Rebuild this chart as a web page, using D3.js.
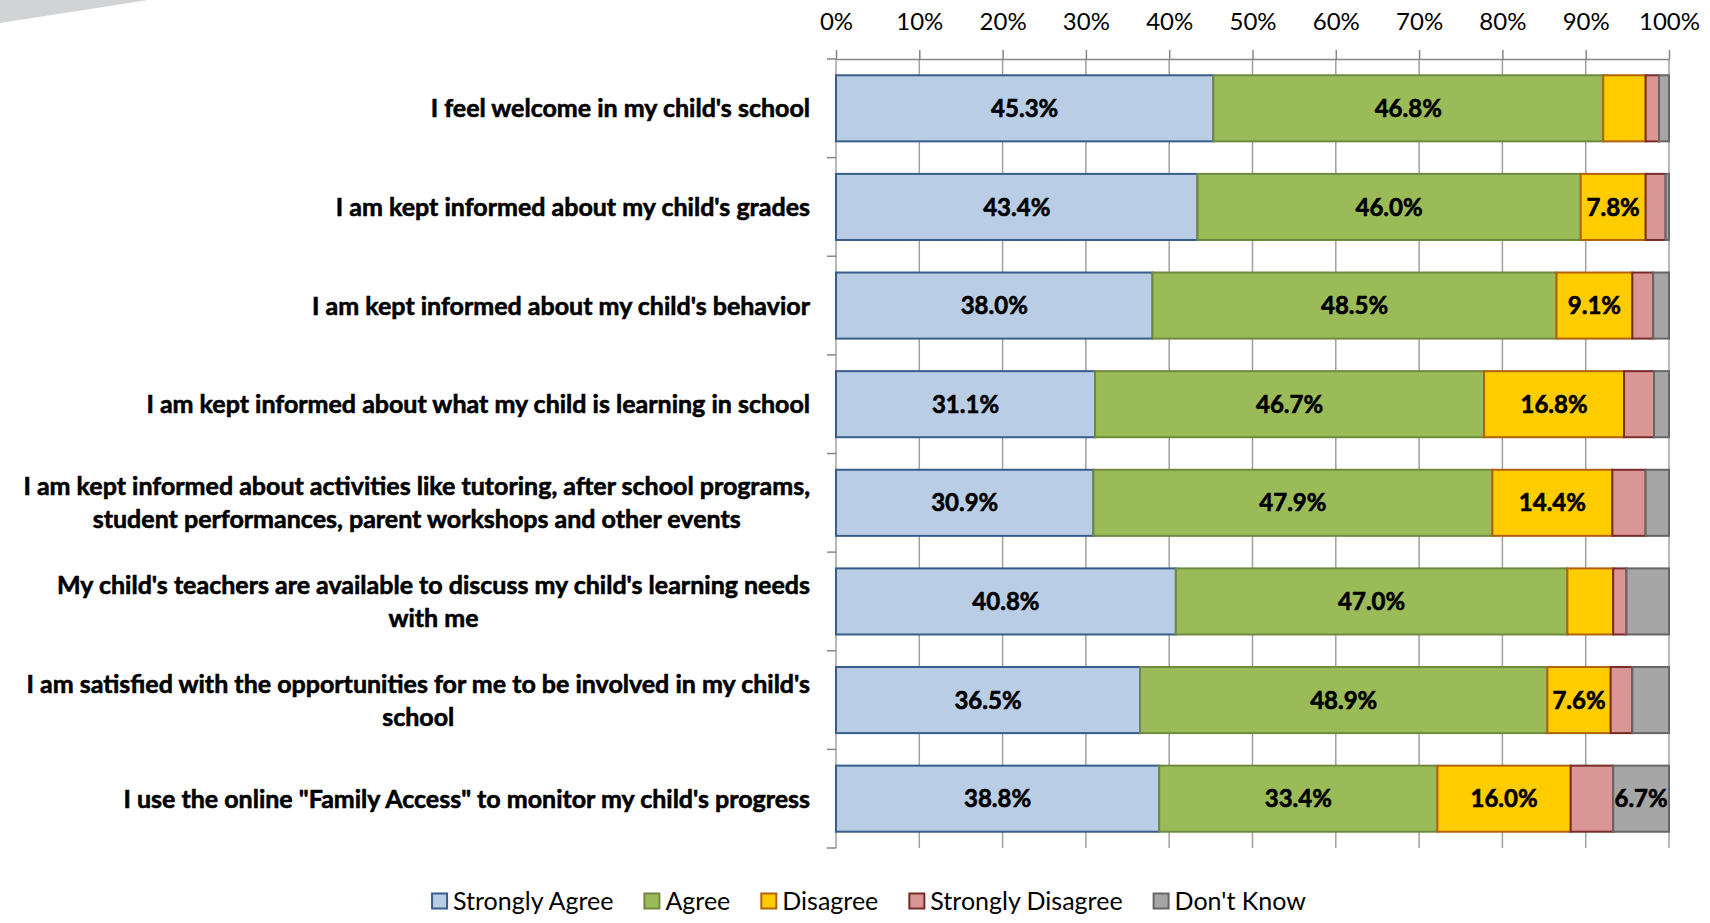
<!DOCTYPE html>
<html>
<head>
<meta charset="utf-8">
<script src="https://cdn.jsdelivr.net/npm/d3@7/dist/d3.min.js"></script>
<style>
  html, body { margin: 0; padding: 0; background: #fff; }
  svg { display: block; font-family: Lato, "Open Sans", sans-serif; }
</style>
</head>
<body>
<svg id="chart" width="1710" height="923"></svg>
<script>
// ---- data ----
const categories = [
  ["I feel welcome in my child's school"],
  ["I am kept informed about my child's grades"],
  ["I am kept informed about my child's behavior"],
  ["I am kept informed about what my child is learning in school"],
  ["I am kept informed about activities like tutoring, after school programs,", "student performances, parent workshops and other events"],
  ["My child's teachers are available to discuss my child's learning needs", "with me"],
  ["I am satisfied with the opportunities for me to be involved in my child's", "school"],
  ["I use the online \"Family Access\" to monitor my child's progress"]
];
const seriesNames = ["Strongly Agree", "Agree", "Disagree", "Strongly Disagree", "Don't Know"];
const stronglyAgree    = [45.3, 43.4, 38.0, 31.1, 30.9, 40.8, 36.5, 38.8];
const agree            = [46.8, 46.0, 48.5, 46.7, 47.9, 47.0, 48.9, 33.4];
const disagree         = [5.1, 7.8, 9.1, 16.8, 14.4, 5.5, 7.6, 16.0];
const stronglyDisagree = [1.6, 2.4, 2.5, 3.6, 4.0, 1.6, 2.6, 5.1];
const dontKnow         = [1.2, 0.4, 1.9, 1.8, 2.8, 5.1, 4.4, 6.7];
const tickValues = [0, 10, 20, 30, 40, 50, 60, 70, 80, 90, 100];
const labelThreshold = 6;

// ---- styles ----
const fills   = ["#b9cde5", "#9bbb59", "#ffcc00", "#d99694", "#a6a6a6"];
const strokes = ["#385d8a", "#71893f", "#b2620c", "#772c2a", "#666666"];

const seriesValues = [stronglyAgree, agree, disagree, stronglyDisagree, dontKnow];
const keys = categories.map((c, i) => "c" + i);
const rows = categories.map((c, i) => {
  const r = { key: keys[i], lines: c };
  seriesNames.forEach((s, j) => r[s] = seriesValues[j][i]);
  return r;
});

const svg = d3.select("#chart");

// decorative corner shape
svg.append("path").attr("d", "M0,0 L148,0 L0,23 Z").attr("fill", "#d1d3d5");

const plotL = 836, plotR = 1669, plotT = 59, plotB = 848;
const x = d3.scaleLinear().domain([0, 100]).range([plotL, plotR]);
const y = d3.scaleBand().domain(keys).range([plotT, plotB]).paddingInner(0.33).paddingOuter(0.165);

// gridlines
svg.append("g").selectAll("line").data(tickValues).join("line")
  .attr("x1", d => x(d)).attr("x2", d => x(d))
  .attr("y1", plotT).attr("y2", plotB)
  .attr("stroke", "#a0a0a0").attr("stroke-width", 1.5);

// top axis
const axis = svg.append("g").attr("transform", `translate(0,${plotT})`)
  .call(d3.axisTop(x).tickValues(tickValues).tickSize(9).tickSizeOuter(0).tickPadding(20).tickFormat(d => d + "%"));
axis.select(".domain").attr("stroke", "#868686").attr("stroke-width", 1.5);
axis.selectAll(".tick line").attr("stroke", "#868686").attr("stroke-width", 1.5);
axis.selectAll(".tick text").attr("font-size", 24).attr("fill", "#000")
  .attr("font-family", "Lato, sans-serif");

// category tick marks on left axis (band boundaries)
const step = y.step();
const boundaries = d3.range(categories.length + 1).map(i => plotT + i * step);
svg.append("g").selectAll("line").data(boundaries).join("line")
  .attr("x1", plotL - 9).attr("x2", plotL)
  .attr("y1", d => d).attr("y2", d => d)
  .attr("stroke", "#868686").attr("stroke-width", 1.5);

// stacked bars
const stack = d3.stack().keys(seriesNames);
const stacked = stack(rows);
const layers = svg.append("g").selectAll("g").data(stacked).join("g")
  .attr("fill", (d, i) => fills[i]).attr("stroke", (d, i) => strokes[i]).attr("stroke-width", 2);
layers.selectAll("rect").data(d => d).join("rect")
  .attr("x", d => x(d[0]))
  .attr("y", d => y(d.data.key))
  .attr("width", d => x(d[1]) - x(d[0]))
  .attr("height", y.bandwidth());

// value labels
const lbl = svg.append("g");
stacked.forEach((layer, i) => {
  layer.forEach((d, r) => {
    const v = seriesValues[i][r];
    if (v >= labelThreshold) {
      lbl.append("text")
        .attr("x", (x(d[0]) + x(d[1])) / 2)
        .attr("y", y(d.data.key) + y.bandwidth() / 2)
        .attr("dy", "0.36em")
        .attr("text-anchor", "middle")
        .attr("font-size", 24).attr("font-weight", "bold").attr("fill", "#000")
        .attr("stroke", "#000").attr("stroke-width", 0.6)
        .text(d3.format(".1f")(v) + "%");
    }
  });
});

// category labels
const labelRight = 810;
const lineH = 33;
rows.forEach(r => {
  const g = svg.append("g");
  const cy = y(r.key) + y.bandwidth() / 2;
  const n = r.lines.length;
  const texts = r.lines.map((t, k) => g.append("text")
    .attr("y", cy + (k - (n - 1) / 2) * lineH)
    .attr("dy", "0.36em")
    .attr("font-size", 25).attr("font-weight", "bold").attr("fill", "#000")
    .attr("stroke", "#000").attr("stroke-width", 0.6)
    .attr("text-anchor", "middle")
    .text(t));
  const maxW = d3.max(texts, t => t.node().getComputedTextLength());
  texts.forEach(t => t.attr("x", labelRight - maxW / 2));
});

// legend
const legY = 901, sq = 15, gapText = 6, gapItem = 31;
const leg = svg.append("g");
const items = seriesNames.map((s, i) => {
  const g = leg.append("g");
  g.append("rect").attr("x", 0).attr("y", -sq / 2).attr("width", sq).attr("height", sq)
    .attr("fill", fills[i]).attr("stroke", strokes[i]).attr("stroke-width", 2);
  const t = g.append("text").attr("x", sq + gapText).attr("y", 0).attr("dy", "0.36em")
    .attr("font-size", 25).attr("fill", "#000").text(s);
  return { g, w: sq + gapText + t.node().getComputedTextLength() };
});
const totalW = d3.sum(items, d => d.w) + gapItem * (items.length - 1);
let cx = 869 - totalW / 2;
items.forEach(it => { it.g.attr("transform", `translate(${cx},${legY})`); cx += it.w + gapItem; });
</script>
</body>
</html>
